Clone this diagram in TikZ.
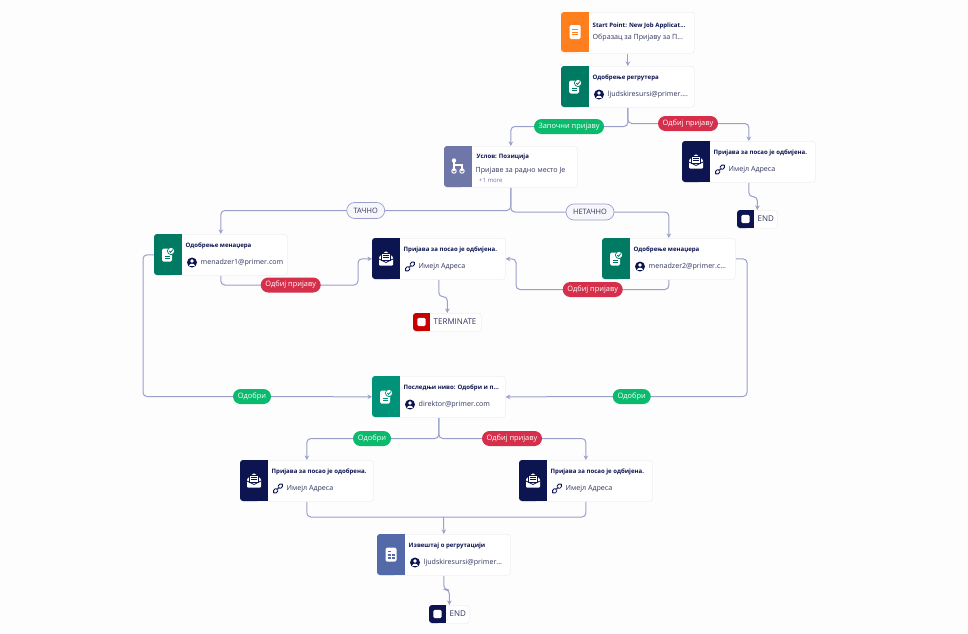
\documentclass[tikz,border=0pt]{standalone}
\usepackage{fontspec}
\setmainfont{Open Sans}
\usetikzlibrary{arrows.meta,calc}
\definecolor{bgc}{HTML}{FDFDFE}
\definecolor{linec}{HTML}{9A9FCB}
\definecolor{navy}{HTML}{0D1550}
\definecolor{bodyc}{HTML}{30365E}
\definecolor{orangec}{HTML}{FF7F1E}
\definecolor{greenc}{HTML}{007A62}
\definecolor{tealc}{HTML}{00937A}
\definecolor{condc}{HTML}{6F76A8}
\definecolor{repc}{HTML}{5369A8}
\definecolor{redc}{HTML}{C90000}
\definecolor{okc}{HTML}{0BBB6D}
\definecolor{noc}{HTML}{D62F4B}
\pgfdeclarelayer{back}
\pgfsetlayers{back,main}
\tikzset{
  x=1pt,y=-1pt,
  card/.style={anchor=north west,draw=black!6,line width=.7pt,fill=white,rounded corners=3pt,inner sep=0pt,minimum width=133pt,minimum height=41pt},
  endcard/.style={anchor=north west,draw=black!6,line width=.7pt,fill=white,rounded corners=3pt,inner sep=0pt,minimum height=18pt},
  ttl/.style={anchor=west,inner sep=0pt,text=navy,font=\fontsize{6.05}{7}\selectfont\bfseries},
  bodytxt/.style={anchor=west,inner sep=0pt,text=bodyc,font=\fontsize{7.1}{8}\selectfont},
  moretxt/.style={anchor=west,inner sep=0pt,text=condc,font=\fontsize{6}{7}\selectfont},
  endtxt/.style={anchor=west,inner sep=0pt,text=bodyc,font=\fontsize{8}{9}\selectfont},
  pill/.style={inner sep=0pt,minimum height=15pt,rounded corners=7.5pt,text=white,font=\fontsize{7.4}{8}\selectfont},
  okpill/.style={pill,fill=okc},
  nopill/.style={pill,fill=noc},
  condpill/.style={pill,fill=white!92!linec,draw=linec,line width=.7pt,text=bodyc,minimum height=16pt,rounded corners=8pt},
  conn/.style={draw=linec,line width=1pt,rounded corners=4pt,-{Stealth[length=4.5pt,width=4.5pt]}},
  seg/.style={draw=linec,line width=1pt,rounded corners=4pt},
}
% icons, drawn round the current origin
\newcommand\icDoc{\fill[white,rounded corners=1.5pt] (-5.5,-7) rectangle (5.5,7);
  \foreach \yy in {-2.5,0,2.5}{\fill[orangec] (-3.2,\yy-.5) rectangle (3.2,\yy+.5);}}
\newcommand\icApprove[1]{\fill[white,rounded corners=1.5pt] (-6,-6) rectangle (4,7);
  \fill[#1] (-3.5,1) rectangle (1.5,2); \fill[#1] (-3.5,3.5) rectangle (1.5,4.5);
  \fill[white,draw=#1,line width=.7pt] (3,-3.5) circle (3.6);
  \draw[#1,line width=.8pt] (1.3,-3.5) -- (2.6,-2.2) -- (4.8,-4.8);}
\newcommand\icMail{\fill[white,rounded corners=1pt] (-7,-1.5) -- (0,-7.5) -- (7,-1.5) -- (7,7) -- (-7,7) -- cycle;
  \draw[navy,line width=.8pt] (-7,0.5) -- (0,4) -- (7,0.5);
  \fill[white,draw=navy,line width=.6pt] (-4.5,-5) rectangle (4.5,1.5);
  \fill[navy] (-3,-3.4) rectangle (3,-2.6); \fill[navy] (-3,-1.4) rectangle (3,-.6);}
\newcommand\icBranch{\fill[white] (-4,-6) circle (2.2);
  \draw[white,line width=1.1pt] (-4,-6) -- (-4,4); \draw[white,line width=1.1pt] (-4,-1.5) -- (4,-1.5) -- (4,4);
  \draw[white,line width=1pt] (-4,4.5) circle (2.2); \draw[white,line width=1pt] (4,4.5) circle (2.2);}
\newcommand\icReport{\fill[white,rounded corners=1.5pt] (-5.5,-7) rectangle (5.5,7);
  \fill[repc] (-3.5,-.5) rectangle (-.5,1.5); \fill[repc] (.5,-.5) rectangle (3.5,1.5);
  \fill[repc] (-3.5,2.5) rectangle (-.5,4.5); \fill[repc] (.5,2.5) rectangle (3.5,4.5);
  \fill[repc] (-3.5,-3.5) rectangle (-.5,-2.5);}
\newcommand\icStop{\fill[white,rounded corners=1.5pt] (-4.2,-4.2) rectangle (4.2,4.2);}
\newcommand\icPerson{\fill[navy] (0,0) circle (5);
  \fill[white] (0,-1.5) circle (1.8);
  \fill[white] (-3,3.4) .. controls (-3,.8) and (3,.8) .. (3,3.4) -- cycle;}
\newcommand\icLink{\begin{scope}[rotate=45]
  \draw[navy,line width=.8pt,rounded corners=1.6pt] (-6,-1.8) rectangle (-.6,1.8);
  \draw[navy,line width=.8pt,rounded corners=1.6pt] (.6,-1.8) rectangle (6,1.8);
  \fill[white] (-1.4,-.6) rectangle (1.4,.6);
  \draw[navy,line width=.8pt] (-2,0) -- (2,0);
  \end{scope}}
% #1 name #2 x #3 y #4 colour #5 icon #6 title #7 small icon #8 text
\newcommand\wfCard[8]{%
  \node[card] (#1) at (#2,#3) {};
  \begin{scope}[shift={(#1.north west)}]
    \fill[#4,rounded corners=3pt] (0,0) rectangle (20,41);
    \fill[#4] (10,0) rectangle (28,41);
    \begin{scope}[shift={(14,20.5)}]#5\end{scope}
    \node[ttl] (#1t) at (31.5,12) {#6};
    \begin{scope}[shift={(38,28.5)}]#7\end{scope}
    \node[bodytxt] (#1b) at (46.5,28.5) {#8};
  \end{scope}}
\newcommand\wfEnd[7]{% name x y width colour bandwidth text
  \node[endcard,minimum width=#4pt] (#1) at (#2,#3) {};
  \begin{scope}[shift={(#1.north west)}]
    \fill[#5,rounded corners=3pt] (0,0) rectangle (12,18);
    \fill[#5] (8,0) rectangle (#6,18);
    \begin{scope}[shift={(8.5,9)}]\icStop\end{scope}
    \node[endtxt] (#1t) at (#6+3.5,9) {#7};
  \end{scope}}
\begin{document}
\begin{tikzpicture}
\useasboundingbox (0,0) rectangle (968,633);
\begin{pgfonlayer}{back}
  \fill[bgc] (0,0) rectangle (968,633);
\end{pgfonlayer}

% start card (two plain text lines)
\node[card] (start) at (561,12) {};
\begin{scope}[shift={(start.north west)}]
  \fill[orangec,rounded corners=3pt] (0,0) rectangle (20,40);
  \fill[orangec] (10,0) rectangle (28,40);
  \begin{scope}[shift={(14,20)}]\icDoc\end{scope}
  \node[ttl] (startt) at (31.5,13.5) {Start Point: New Job Applicat...};
  \node[bodytxt] (startb) at (31.5,25.5) {Образац за Пријаву за П...};
\end{scope}

\wfCard{rec}{561}{66}{greenc}{\icApprove{greenc}}{Одобрење регрутера}{\icPerson}{ljudskiresursi@primer....}

% condition card
\node[card] (cond) at (444,146) {};
\begin{scope}[shift={(cond.north west)}]
  \fill[condc,rounded corners=3pt] (0,0) rectangle (20,41);
  \fill[condc] (10,0) rectangle (28,41);
  \begin{scope}[shift={(14,20.5)}]\icBranch\end{scope}
  \node[ttl] (condt) at (32.5,10.5) {Услов: Позиција};
  \node[bodytxt] (condb) at (31.5,24.5) {Пријаве за радно место Је};
  \node[moretxt] (condm) at (35,34) {+1 more};
\end{scope}

\wfCard{rej1}{682}{141}{navy}{\icMail}{Пријава за посао је одбијена.}{\icLink}{Имејл Адреса}
\wfCard{mgr1}{154}{234}{greenc}{\icApprove{greenc}}{Одобрење менаџера}{\icPerson}{menadzer1@primer.com}
\wfCard{rej2}{372}{238}{navy}{\icMail}{Пријава за посао је одбијена.}{\icLink}{Имејл Адреса}
\wfCard{mgr2}{602}{238}{greenc}{\icApprove{greenc}}{Одобрење менаџера}{\icPerson}{menadzer2@primer.c...}
\wfCard{last}{372}{376}{tealc}{\icApprove{tealc}}{Последњи ниво: Одобри и п...}{\icPerson}{direktor@primer.com}
\wfCard{app}{240}{460}{navy}{\icMail}{Пријава за посао је одобрена.}{\icLink}{Имејл Адреса}
\wfCard{rej3}{519}{460}{navy}{\icMail}{Пријава за посао је одбијена.}{\icLink}{Имејл Адреса}
\wfCard{rep}{377}{534}{repc}{\icReport}{Извештај о регрутацији}{\icPerson}{ljudskiresursi@primer...}

\wfEnd{end1}{737}{210}{40}{navy}{17}{END}
\wfEnd{term}{413}{313}{68}{redc}{17}{TERMINATE}
\wfEnd{end2}{429}{605}{40}{navy}{17}{END}

% labels
\node[okpill,minimum width=70pt] (lStart) at (569,126.5) {Започни пријаву};
\node[nopill,minimum width=60pt] (lRej) at (688,123.5) {Одбиј пријаву};
\node[condpill,minimum width=38pt] (lTrue) at (365.7,210.5) {ТАЧНО};
\node[condpill,minimum width=48pt] (lFalse) at (590,212) {НЕТАЧНО};
\node[nopill,minimum width=60pt] (lRej1) at (290.7,285) {Одбиј пријаву};
\node[nopill,minimum width=60pt] (lRej2) at (592.7,289.5) {Одбиј пријаву};
\node[okpill,minimum width=38pt] (lOk1) at (252,396.5) {Одобри};
\node[okpill,minimum width=38pt] (lOk2) at (631.7,396.5) {Одобри};
\node[okpill,minimum width=38pt] (lOk3) at (372,438.5) {Одобри};
\node[nopill,minimum width=60pt] (lRej3) at (512,438.5) {Одбиј пријаву};

\coordinate (bendA) at (358,285);
\coordinate (bendB) at (516,289.5);
\coordinate (bendC) at (143,396.5);
\coordinate (bendD) at (747,396.5);
\coordinate (joinY) at (443.5,517);

\begin{pgfonlayer}{back}
  \draw[conn] (start.south) -- (rec.north);
  \draw[conn] (rec.south) |- (lStart.center) -| (cond.north);
  \draw[conn] (rec.south) |- (lRej.center) -| (rej1.north);
  \draw[conn] (cond.south) |- (lTrue.center) -| (mgr1.north);
  \draw[conn] (cond.south) |- (lFalse.center) -| (mgr2.north);
  \draw[conn] (rej1.south) -- ++(0,14) -| (end1.north);
  \draw[conn] (mgr1.south) |- (lRej1.center) -- (bendA) |- (rej2.west);
  \draw[conn] (mgr2.south) |- (lRej2.center) -- (bendB) |- (rej2.east);
  \draw[conn] (mgr1.west) -| (bendC) -- (lOk1.center) -- (last.west);
  \draw[conn] (mgr2.east) -| (bendD) -- (lOk2.center) -- (last.east);
  \draw[conn] (rej2.south) -- ++(0,17) -| (term.north);
  \draw[conn] (last.south) |- (lOk3.center) -| (app.north);
  \draw[conn] (last.south) |- (lRej3.center) -| (rej3.north);
  \draw[seg] (app.south) |- (joinY);
  \draw[seg] (rej3.south) |- (joinY);
  \draw[conn] (joinY) -- (rep.north);
  \draw[conn] (rep.south) -- ++(0,14) -| (end2.north);
\end{pgfonlayer}
\end{tikzpicture}
\end{document}
